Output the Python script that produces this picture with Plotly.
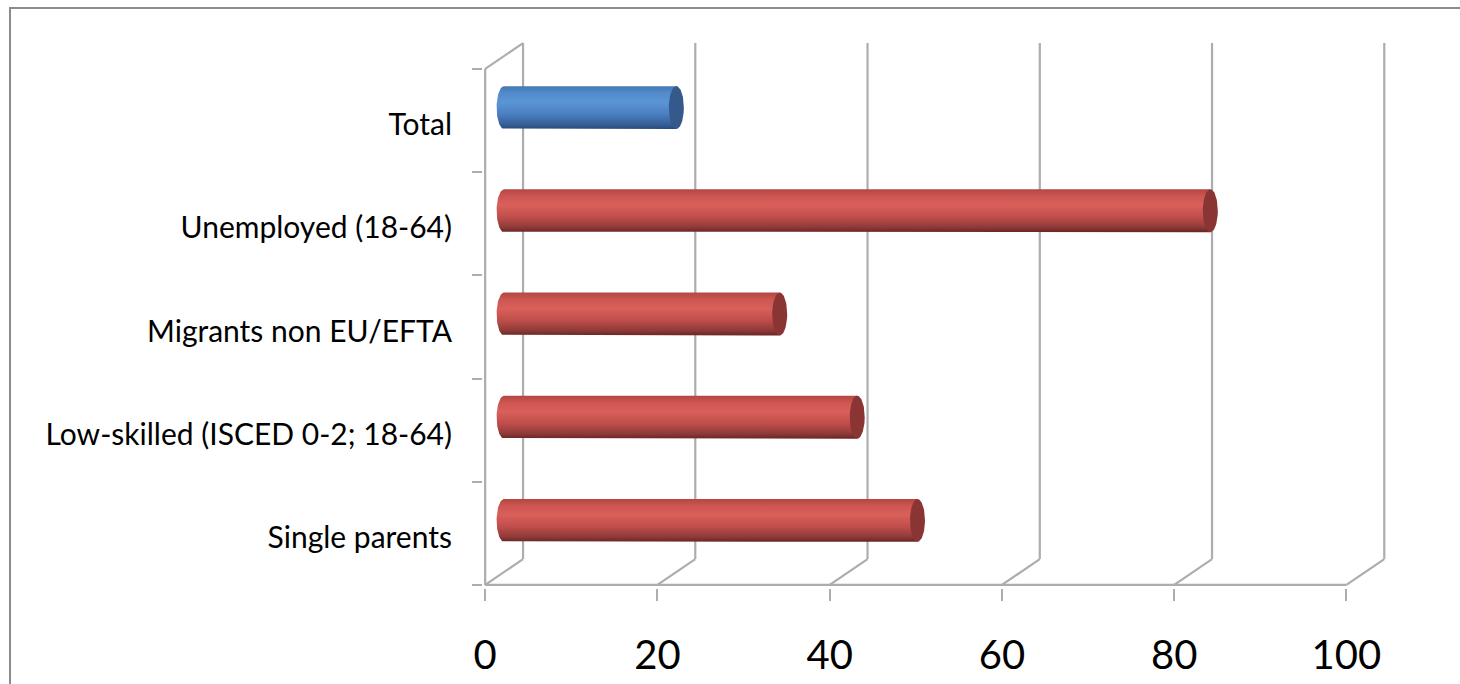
import numpy as np
import plotly.graph_objects as go

# Share of people (%) by group, bottom to top as drawn
categories = ["Single parents", "Low-skilled (ISCED 0-2; 18-64)",
              "Migrants non EU/EFTA", "Unemployed (18-64)", "Total"]
values = [48, 41, 32, 82, 20]
series_kind = ["group", "group", "group", "group", "total"]
x_ticks = [0, 20, 40, 60, 80, 100]

# Pseudo-3D geometry in data units
DX, DY = 4.4, 0.25          # depth offset of the back wall
WALL_TOP = len(categories)  # height of the front plane
HALF_H = 0.208              # half thickness of a cylinder
RX = 0.87                   # half width of the end ellipses

# Canvas / plot-area placement (pixels)
W, H = 1460, 684
ML, MR, MT, MB = 483, 74, 40, 96
X_RANGE = [-0.25, 104.6]
Y_RANGE = [-0.03, 5.28]

GRID = "#ADADAD"
STYLE = {
    "group": dict(scale=[[0.0, "#6A2523"], [0.12, "#8E3B39"], [0.35, "#BF4D4A"],
                         [0.62, "#D95F5A"], [0.82, "#CF5753"], [1.0, "#B44642"]],
                  cap="#8A3533"),
    "total": dict(scale=[[0.0, "#284A78"], [0.12, "#36609A"], [0.35, "#4A7FC0"],
                         [0.62, "#5B95D6"], [0.82, "#538CCD"], [1.0, "#4577B4"]],
                  cap="#34598A"),
}

fig = go.Figure()

# Cylinders: body with vertical shading plus a darker end cap
t_left = np.linspace(np.pi / 2, 3 * np.pi / 2, 40)
t_full = np.linspace(0, 2 * np.pi, 80)
for i, (cat, val, kind) in enumerate(zip(categories, values, series_kind)):
    yc = i + 0.5 + DY / 2
    xs = DX / 2
    xe = xs + val
    # body: top edge, right edge, bottom edge, then the rounded left end
    lx = list(xs + RX * np.cos(t_left))
    ly = list(yc + HALF_H * np.sin(t_left))
    bx = [xs, xe, xe, xs] + lx[::-1]
    by = [yc + HALF_H, yc + HALF_H, yc - HALF_H, yc - HALF_H] + ly[::-1]
    st = STYLE[kind]
    fig.add_trace(go.Scatter(
        x=bx, y=by, mode="lines", fill="toself", line=dict(width=0),
        fillgradient=dict(type="vertical", colorscale=st["scale"]),
        hoverinfo="skip", showlegend=False))
    fig.add_trace(go.Scatter(
        x=list(xe + RX * np.cos(t_full)), y=list(yc + HALF_H * np.sin(t_full)),
        mode="lines", fill="toself", fillcolor=st["cap"], line=dict(width=0),
        name=cat, text=[f"{cat}: {val}"] * len(t_full), hoverinfo="text",
        showlegend=False))

# Walls and gridlines
shapes = []
def seg(x0, y0, x1, y1):
    shapes.append(dict(type="line", xref="x", yref="y", x0=x0, y0=y0, x1=x1, y1=y1,
                       line=dict(color=GRID, width=2.2), layer="below"))

seg(0, 0, 100, 0)                                 # front floor edge
seg(0, 0, 0, WALL_TOP)                            # front left edge
seg(0, WALL_TOP, DX, WALL_TOP + DY)               # top of side wall
for v in x_ticks:
    seg(v, 0, v + DX, DY)                         # floor diagonal
    seg(v + DX, DY, v + DX, WALL_TOP + DY)        # back-wall gridline

# Outer chart frame (pixel positions converted to paper units)
pw, ph = W - ML - MR, H - MT - MB
def px_x(p): return (p - ML) / pw
def px_y(p): return (H - MB - p) / ph
shapes.append(dict(type="rect", xref="paper", yref="paper",
                   x0=px_x(10), y0=px_y(8), x1=px_x(1475), y1=px_y(700),
                   line=dict(color="#8C8C8C", width=2), fillcolor="rgba(0,0,0,0)",
                   layer="below"))

fig.update_layout(
    width=W, height=H,
    margin=dict(l=ML, r=MR, t=MT, b=MB, autoexpand=False),
    paper_bgcolor="white", plot_bgcolor="white",
    font=dict(family="Lato, sans-serif", color="black"),
    shapes=shapes,
    xaxis=dict(range=X_RANGE, tickvals=x_ticks, ticktext=[str(v) for v in x_ticks],
               showgrid=False, zeroline=False, showline=False, automargin=False,
               ticks="outside", ticklen=12, tickwidth=2, tickcolor=GRID,
               tickfont=dict(size=40), ticklabelstandoff=20, fixedrange=True),
    yaxis=dict(range=Y_RANGE, tickvals=[i + 0.46 for i in range(len(categories))],
               ticktext=categories, showgrid=False, zeroline=False, showline=False,
               automargin=False, ticks="", tickfont=dict(size=30),
               ticklabelstandoff=30,
               minor=dict(tickvals=list(range(len(categories) + 1)), ticks="outside",
                          ticklen=10, tickwidth=2, tickcolor=GRID, showgrid=False),
               fixedrange=True),
)

fig.write_html("out.html")
